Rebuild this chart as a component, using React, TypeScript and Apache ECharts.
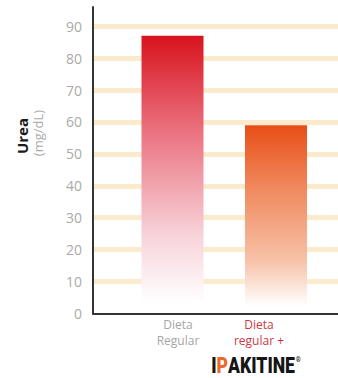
import React, { useEffect, useRef } from "react";
import * as echarts from "echarts";

// Urea levels by diet
const categories = ["Dieta\nRegular", "Dieta\nregular +"];
const ureaValues = [87, 59];
const axisMax = 96;
const tickStep = 10;

// gradient stops for each bar (top colour -> white at the foot)
const barStops = [
  ["#D8131E", "#EA717E", "#F8D3DA", "#FFFFFF"],
  ["#E84E17", "#F08A5E", "#F7C2A8", "#FFFFFF"],
];
const stopOffsets = [0, 0.34, 0.72, 0.96];

const FONT = "'Open Sans', 'Noto Sans', sans-serif";

export default function App() {
  const ref = useRef<HTMLDivElement>(null);

  useEffect(() => {
    if (!ref.current) return;
    const chart = echarts.init(ref.current, null, { renderer: "svg" });

    const gridTop = 7;
    const gridBottom = 64.5;

    chart.setOption({
      animation: false,
      backgroundColor: "#ffffff",
      grid: [
        { left: 93, right: 0, top: gridTop, bottom: gridBottom },
        { left: 120.75, right: 10.25, top: gridTop, bottom: gridBottom },
      ],
      xAxis: [
        {
          gridIndex: 0,
          type: "category",
          data: [""],
          z: 5,
          axisLine: { show: true, lineStyle: { color: "#333333", width: 2 } },
          axisTick: { show: false },
          axisLabel: { show: false },
          splitLine: { show: false },
        },
        {
          gridIndex: 1,
          type: "category",
          data: categories,
          axisLine: { show: false },
          axisTick: { show: false },
          axisLabel: {
            margin: 3,
            interval: 0,
            formatter: (_v: string, idx: number) => {
              const lines = categories[idx].split("\n");
              const key = idx === 0 ? "reg" : "ipk";
              return lines.map((l) => `{${key}|${l}}`).join("\n");
            },
            rich: {
              reg: {
                color: "#a6a6a6",
                fontSize: 12,
                fontFamily: FONT,
                lineHeight: 16,
                padding: [0, 0, 0, 11],
              },
              ipk: {
                color: "#c93a46",
                fontSize: 12,
                fontFamily: FONT,
                lineHeight: 16,
                padding: [0, 34, 0, 0],
              },
            },
          },
        },
      ],
      yAxis: [
        {
          gridIndex: 0,
          type: "value",
          min: 0,
          max: axisMax,
          interval: tickStep,
          axisLine: { show: true, lineStyle: { color: "#333333", width: 2 } },
          axisTick: { show: false },
          axisLabel: {
            color: "#aaaaaa",
            fontSize: 14,
            fontFamily: FONT,
            margin: 11,
            showMaxLabel: false,
          },
          splitLine: {
            show: true,
            showMinLine: false,
            showMaxLine: false,
            lineStyle: { color: "#FBEACB", width: 5 },
          },
        },
        {
          gridIndex: 1,
          type: "value",
          min: 0,
          max: axisMax,
          interval: tickStep,
          show: false,
        },
      ],
      series: [
        {
          type: "bar",
          xAxisIndex: 1,
          yAxisIndex: 1,
          barWidth: 62,
          data: ureaValues.map((v, i) => ({
            value: v,
            itemStyle: {
              color: new echarts.graphic.LinearGradient(
                0,
                0,
                0,
                1,
                barStops[i].map((c, k) => ({ offset: stopOffsets[k], color: c }))
              ),
            },
          })),
        },
      ],
      graphic: [
        {
          type: "text",
          x: 22,
          y: 136,
          rotation: Math.PI / 2,
          style: {
            text: "Urea",
            fill: "#1a1a1a",
            font: `bold 15px ${FONT}`,
            align: "center",
            verticalAlign: "middle",
          },
        },
        {
          type: "text",
          x: 37.5,
          y: 133,
          rotation: Math.PI / 2,
          style: {
            text: "(mg/dL)",
            fill: "#ababab",
            font: `13px ${FONT}`,
            align: "center",
            verticalAlign: "middle",
          },
        },
        {
          type: "text",
          x: 256,
          y: 366,
          scaleX: 0.8,
          style: {
            text: "{i|I}{p|P}{i|AKITINE}{r|®}",
            align: "center",
            verticalAlign: "middle",
            rich: {
              i: { fill: "#151515", fontFamily: "Roboto", fontWeight: 900, fontSize: 22 },
              p: { fill: "#E96A2B", fontFamily: "Roboto", fontWeight: 900, fontSize: 22 },
              r: {
                fill: "#151515",
                fontFamily: "Roboto",
                fontWeight: 700,
                fontSize: 8,
                verticalAlign: "top",
                padding: [0, 0, 12, 1],
              },
            },
          },
        },
      ],
    });

    return () => chart.dispose();
  }, []);

  return (
    <div
      ref={ref}
      style={{ position: "fixed", left: 0, top: 0, width: 338, height: 378, background: "#fff" }}
    />
  );
}
